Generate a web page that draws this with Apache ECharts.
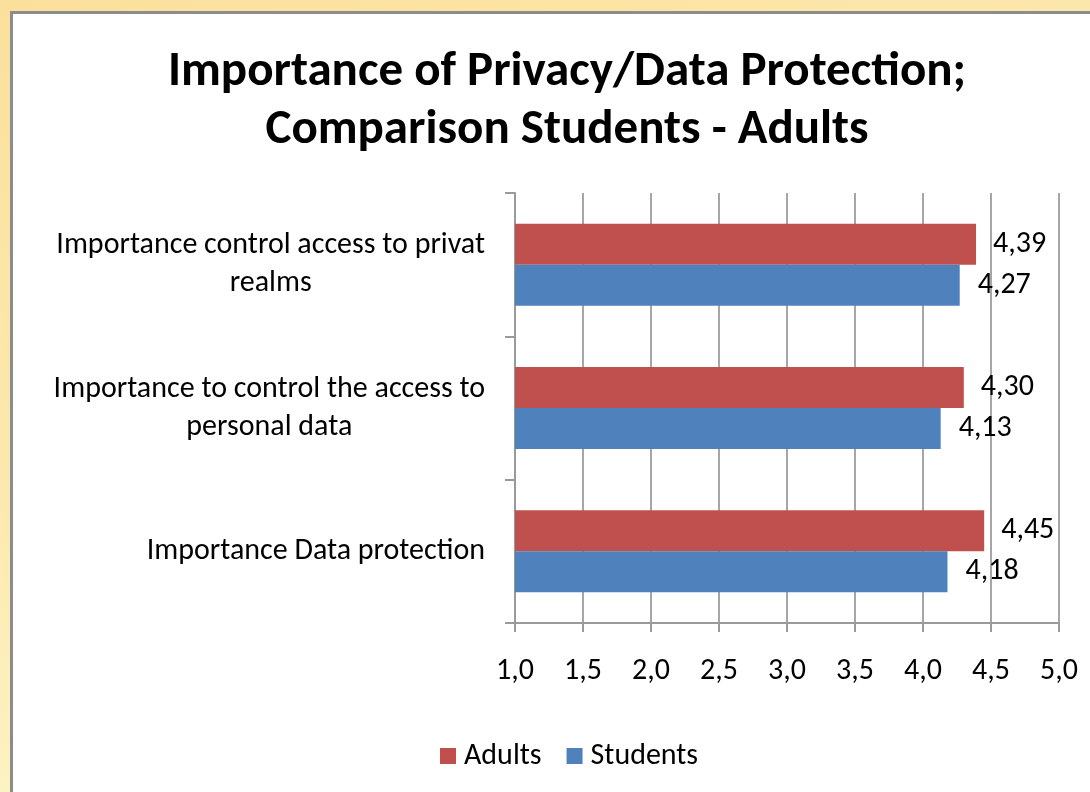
<!DOCTYPE html>
<html>
<head>
<meta charset="utf-8">
<script src="https://cdn.jsdelivr.net/npm/echarts@6/dist/echarts.min.js"></script>
<style>
  html, body { margin: 0; padding: 0; }
  body {
    width: 1090px; height: 792px; overflow: hidden; position: relative;
    background: linear-gradient(160deg, #fbe09c 0%, #fce8ae 40%, #fdf3c4 70%, #fef8cc 100%);
  }
  .panel {
    position: absolute; left: 10px; top: 11px; width: 1100px; height: 800px;
    background: #fff; border-left: 3px solid #8c8c8c; border-top: 3px solid #8c8c8c;
  }
  #main { position: absolute; left: 0; top: 0; width: 1090px; height: 792px; }
</style>
</head>
<body>
<div class="panel"></div>
<div id="main"></div>
<script>
  // categories from bottom to top (Excel order)
  var categories = [
    'Importance Data protection',
    'Importance to control the access to\npersonal data',
    'Importance control access to privat\nrealms'
  ];
  var adults = [4.45, 4.30, 4.39];
  var students = [4.18, 4.13, 4.27];
  var xTicks = [1.0, 1.5, 2.0, 2.5, 3.0, 3.5, 4.0, 4.5, 5.0];

  var fontName = 'Carlito, Lato, "Open Sans", sans-serif';

  function comma(v, d) {
    return Number(v).toFixed(d).replace('.', ',');
  }

  var myChart = echarts.init(document.getElementById('main'));

  var option = {
    backgroundColor: 'transparent',
    textStyle: { fontFamily: fontName },
    title: {
      text: 'Importance of Privacy/Data Protection;\nComparison Students - Adults',
      left: 562,
      textAlign: 'center',
      top: 39,
      textStyle: {
        fontFamily: fontName,
        fontSize: 49,
        fontWeight: 'bold',
        color: '#000',
        lineHeight: 58
      }
    },
    legend: {
      data: ['Adults', 'Students'],
      left: 435,
      top: 736,
      itemWidth: 16,
      itemHeight: 16,
      itemGap: 25,
      icon: 'rect',
      textStyle: { fontFamily: fontName, fontSize: 30, color: '#000', padding: [0, 0, 0, 3] }
    },
    grid: {
      left: 515,
      right: 31,
      top: 193,
      bottom: 169
    },
    xAxis: {
      type: 'value',
      min: xTicks[0],
      max: xTicks[xTicks.length - 1],
      interval: 0.5,
      axisLine: { show: true, lineStyle: { color: '#9a9a9a', width: 2 } },
      axisTick: { show: true, length: 9, lineStyle: { color: '#9a9a9a', width: 2 } },
      splitLine: { show: true, lineStyle: { color: '#a6a6a6', width: 2 } },
      axisLabel: {
        margin: 33,
        fontFamily: fontName,
        fontSize: 30,
        color: '#000',
        formatter: function (v) { return comma(v, 1); }
      }
    },
    yAxis: {
      type: 'category',
      data: categories,
      axisLine: { show: true, lineStyle: { color: '#9a9a9a', width: 2 } },
      axisTick: { show: true, length: 10, lineStyle: { color: '#9a9a9a', width: 2 } },
      axisLabel: {
        margin: 30,
        align: 'right',
        formatter: function (v) {
          return v.split('\n').map(function (s) { return '{c|' + s + '}'; }).join('\n');
        },
        rich: {
          c: { align: 'center', fontFamily: fontName, fontSize: 30, lineHeight: 38, color: '#000' }
        }
      }
    },
    series: [
      {
        name: 'Adults',
        type: 'bar',
        data: adults,
        barWidth: 41,
        barGap: '0%',
        itemStyle: { color: '#c0504d' },
        label: {
          show: true,
          position: 'right',
          distance: 17,
          fontFamily: fontName,
          fontSize: 30,
          color: '#000',
          formatter: function (p) { return comma(p.value, 2); }
        }
      },
      {
        name: 'Students',
        type: 'bar',
        data: students,
        barWidth: 41,
        barGap: '0%',
        itemStyle: { color: '#4f81bd' },
        label: {
          show: true,
          position: 'right',
          distance: 18,
          fontFamily: fontName,
          fontSize: 30,
          color: '#000',
          formatter: function (p) { return comma(p.value, 2); }
        }
      }
    ]
  };

  myChart.setOption(option);
</script>
</body>
</html>
